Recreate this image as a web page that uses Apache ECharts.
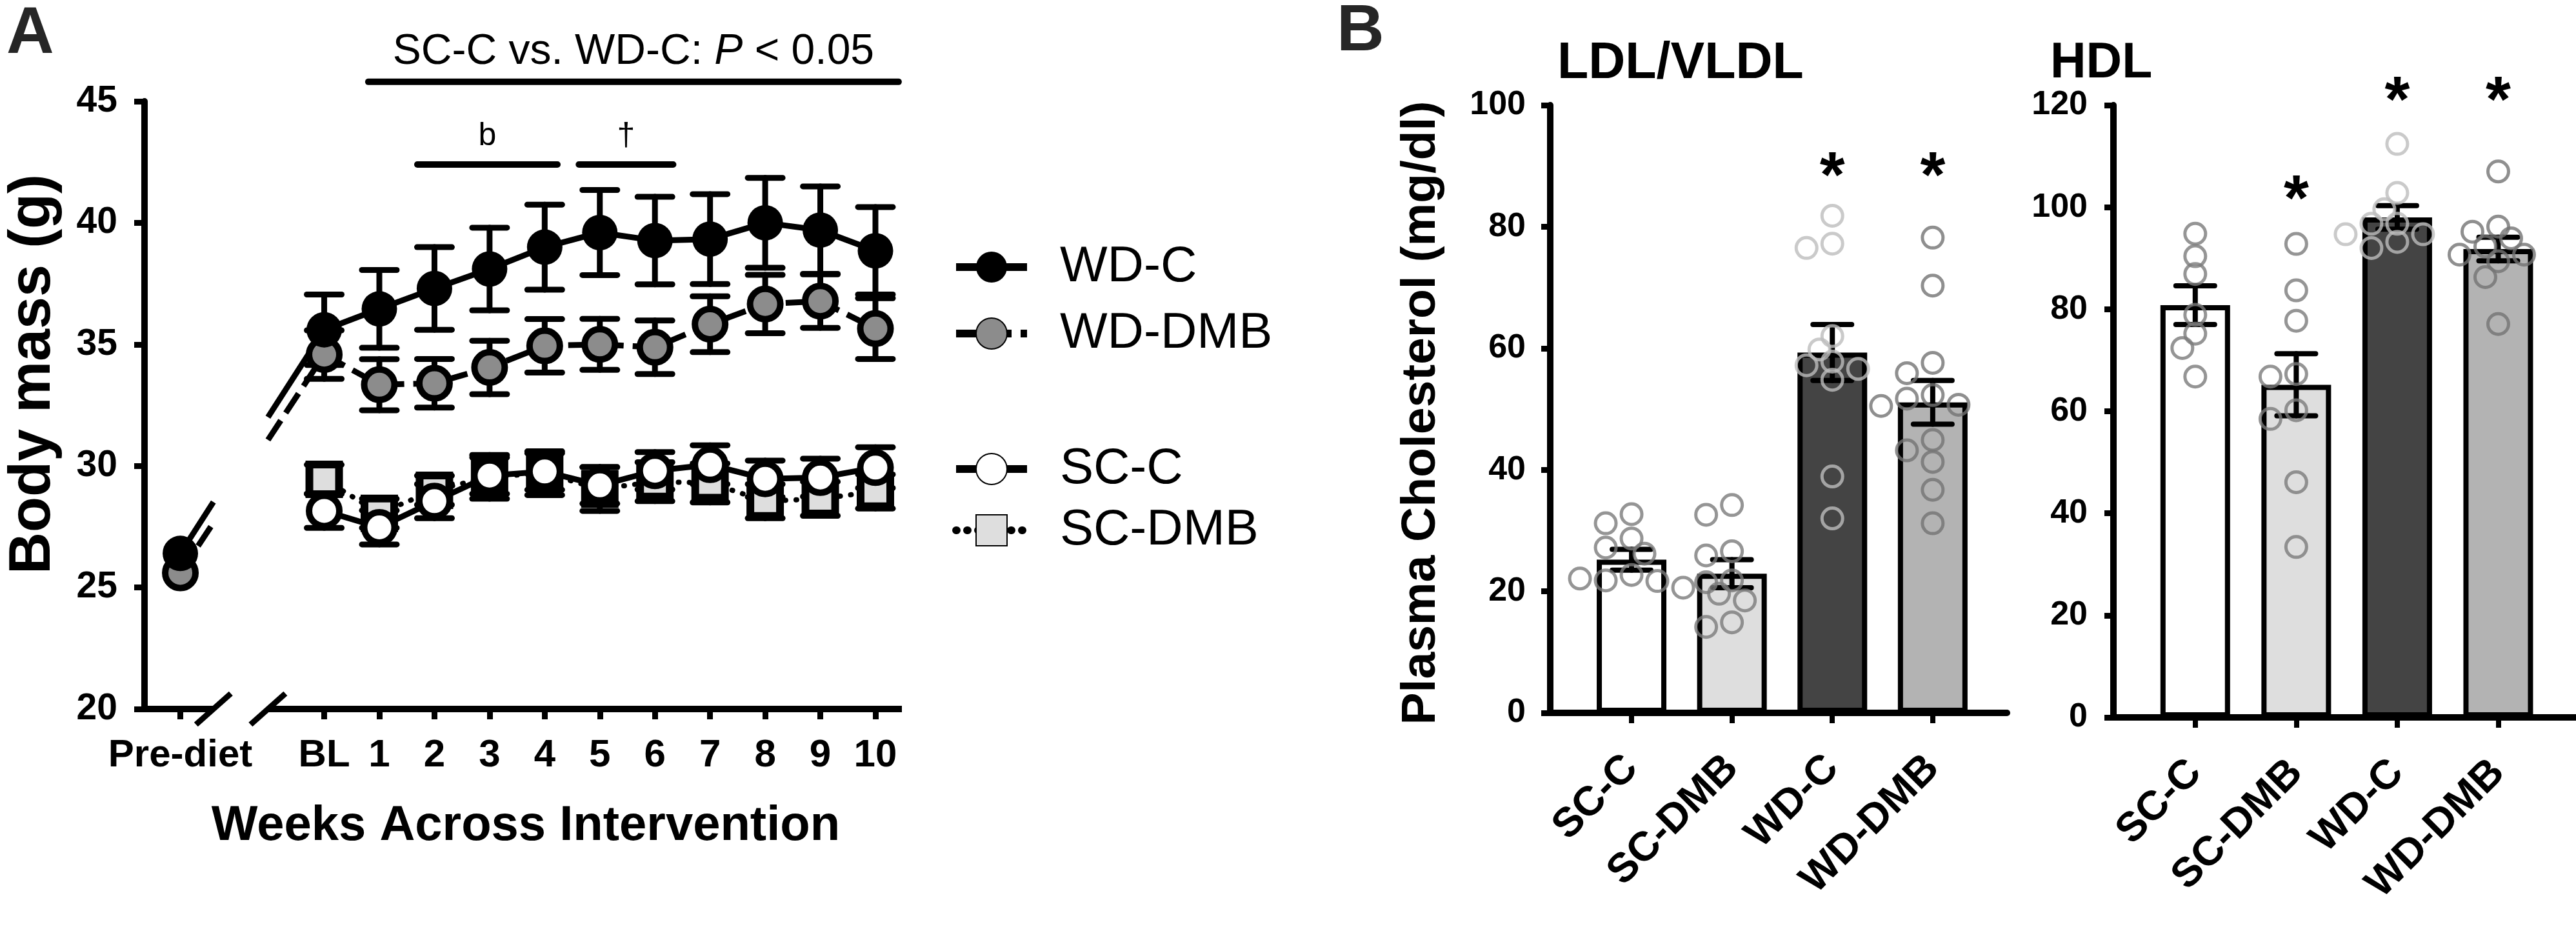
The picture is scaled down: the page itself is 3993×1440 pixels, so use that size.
<!DOCTYPE html>
<html><head><meta charset="utf-8">
<script src="https://cdn.jsdelivr.net/npm/echarts@6/dist/echarts.min.js"></script>
<style>html,body{margin:0;padding:0;background:#fff}#c{width:3993px;height:1440px}</style>
</head><body><div id="c"></div>
<script>
// ================= DATA =================
// Panel A: body mass (g), mean and SEM, BL..week 10
const weekLabels = ['Pre-diet','BL','1','2','3','4','5','6','7','8','9','10'];
const weeks = [0,1,2,3,4,5,6,7,8,9,10];
const wdC_pre = 26.4;
const wdDMB_pre = 25.6;
const wdC      = [35.6, 36.46, 37.3, 38.1, 39.0, 39.6, 39.27, 39.33, 40.0, 39.7, 38.85];
const wdC_sem  = [1.45, 1.6, 1.7, 1.7, 1.75, 1.75, 1.8, 1.85, 1.85, 1.8, 1.8];
const wdDMB    = [34.58, 33.34, 33.4, 34.05, 34.94, 35.0, 34.88, 35.83, 36.66, 36.78, 35.65];
const wdDMB_sem= [1.0, 1.05, 1.0, 1.1, 1.1, 1.05, 1.1, 1.15, 1.2, 1.1, 1.25];
const scC      = [28.15, 27.47, 28.55, 29.6, 29.77, 29.2, 29.8, 30.05, 29.47, 29.52, 29.93];
const scC_sem  = [0.7, 0.7, 0.7, 0.75, 0.75, 0.75, 0.77, 0.8, 0.75, 0.78, 0.84];
const scDMB    = [29.45, 28.05, 29.0, 29.55, 29.7, 29.05, 29.35, 29.3, 28.55, 28.65, 28.95];
const scDMB_sem= [0.6, 0.6, 0.6, 0.9, 0.9, 0.9, 0.8, 0.8, 0.7, 0.7, 0.7];
// significance annotations (week spans)
const sigSpans = [
  {text:'SC-C vs. WD-C: P < 0.05', from:0.8, to:10.42, tier:'main'},
  {text:'b', from:1.69, to:4.23, tier:'sub'},
  {text:'\u2020', from:4.62, to:6.33, tier:'sub'}
];

// Panel B: plasma cholesterol (mg/dl)
const groups = ['SC-C','SC-DMB','WD-C','WD-DMB'];
const ldlMean = [25.2, 22.9, 59.3, 51.1];
const ldlSem  = [1.7, 2.3, 4.6, 3.6];
const ldlPoints = [
  [32.7, 31.2, 28.7, 27.2, 26.2, 22.7, 21.8, 21.7, 22.1, 20.6],
  [34.2, 32.6, 26.6, 25.9, 21.8, 21.5, 19.6, 18.5, 14.9, 14.15],
  [81.8, 77.2, 76.5, 62.0, 59.8, 57.8, 57.2, 56.6, 54.8, 38.9, 32.0],
  [78.2, 70.3, 57.6, 55.9, 52.3, 51.7, 50.7, 50.5, 44.9, 43.2, 41.3, 36.7, 31.2]
];
const hdlMean = [80.8, 65.2, 98.0, 91.8];
const hdlSem  = [3.8, 6.1, 2.3, 2.3];
const hdlPoints = [
  [94.8, 90.4, 86.9, 78.9, 75.2, 72.4, 66.8],
  [92.8, 83.7, 77.75, 67.3, 66.8, 60.2, 58.5, 46.1, 33.4],
  [112.4, 102.8, 99.6, 96.75, 96.75, 94.7, 94.7, 93.2, 92.0],
  [107.0, 96.2, 95.2, 93.9, 92.3, 90.7, 90.7, 89.4, 86.3, 77.1]
];
// significance stars: [group index, level]
const ldlStars = [[2, 89.6], [3, 89.6]];
const hdlStars = [[1, 103.0], [2, 122.4], [3, 122.4]];

// ================= LAYOUT / STYLE =================
const FONT = '"Liberation Sans", Arial, Helvetica, sans-serif';
const PRE_X = -2.61;          // x position of the pre-diet category on the week axis
const BREAK_START = -2.01, BREAK_END = -1.02;
const XA_MIN = -3.26, XA_MAX = 10.48, YA_MIN = 20, YA_MAX = 45;
const GRID_A = {left:224, top:157, width:1174, height:942};
const GRID_L = {left:2403, top:163, width:708, height:942};
const GRID_H = {left:3276, top:163, width:717, height:949};
const XB_MIN = -0.81, XL_MAX = 3.74, XH_MAX = 3.77;
const barColors = ['#ffffff', '#dedede', '#444444', '#b3b3b3'];
const pointColors = ['#7a7a7a', '#7a7a7a', '#bdbdbd', '#737373'];
const tickPosA = [PRE_X].concat(weeks);

const chart = echarts.init(document.getElementById('c'), null, {renderer:'canvas', width:3993, height:1440});

function errRender(capHalf, lw) {
  return function (params, api) {
    const x = api.value(0), y = api.value(1), e = api.value(2);
    const t = api.coord([x, y + e]), b = api.coord([x, y - e]);
    const st = {stroke:'#000', lineWidth:lw, lineCap:'round'};
    return {type:'group', children:[
      {type:'line', shape:{x1:t[0], y1:t[1], x2:b[0], y2:b[1]}, style:st},
      {type:'line', shape:{x1:t[0]-capHalf, y1:t[1], x2:t[0]+capHalf, y2:t[1]}, style:st},
      {type:'line', shape:{x1:b[0]-capHalf, y1:b[1], x2:b[0]+capHalf, y2:b[1]}, style:st}
    ]};
  };
}
function connectorRender(dash) {
  return function (params, api) {
    const p0 = api.coord([api.value(0), api.value(1)]);
    const p1 = api.coord([api.value(2), api.value(3)]);
    const bs = api.coord([BREAK_START, YA_MIN])[0];
    const be = api.coord([BREAK_END, YA_MIN])[0];
    const lerp = (x) => { const t = (x - p0[0]) / (p1[0] - p0[0]); return [x, p0[1] + t * (p1[1] - p0[1])]; };
    const a = lerp(bs), b = lerp(be);
    const st = {stroke:'#000', lineWidth:9, lineDash: dash, lineCap:'butt'};
    return {type:'group', children:[
      {type:'line', shape:{x1:p0[0], y1:p0[1], x2:a[0], y2:a[1]}, style:st},
      {type:'line', shape:{x1:b[0], y1:b[1], x2:p1[0], y2:p1[1]}, style:st}
    ]};
  };
}
function beeswarm(values, pxY, pxX, diam, step) {
  const placed = [], offs = [];
  values.forEach(v => {
    const y = v * pxY;
    let chosen = 0;
    outer: for (let k = 0; k < 30; k++) {
      const cands = k === 0 ? [0] : [-k * step, k * step];
      for (const c of cands) {
        if (placed.every(p => Math.hypot(p.x - c, p.y - y) >= diam)) { chosen = c; break outer; }
      }
    }
    placed.push({x:chosen, y:y});
    offs.push(chosen / pxX);
  });
  return offs;
}
function pointsSeries(pts, axisIdx, grid, xmin, xmax, ymax) {
  const pxY = grid.height / ymax, pxX = grid.width / (xmax - xmin);
  return pts.map((vals, gi) => {
    const offs = beeswarm(vals, pxY, pxX, 26, 20);
    return {
      type:'scatter', xAxisIndex:axisIdx, yAxisIndex:axisIdx, z:5, silent:true,
      symbol:'circle', symbolSize:32,
      itemStyle:{color:'rgba(0,0,0,0)', borderColor:pointColors[gi], borderWidth:5},
      data: vals.map((v, i) => [gi + offs[i], v])
    };
  });
}
function starSeries(stars, axisIdx) {
  return {
    type:'custom', xAxisIndex:axisIdx, yAxisIndex:axisIdx, z:6, silent:true, clip:false,
    data: stars,
    renderItem: function (params, api) {
      const p = api.coord([api.value(0), api.value(1)]);
      return {type:'text', style:{text:'*', x:p[0], y:p[1] + 16, font:'bold 100px ' + FONT, fill:'#000',
        align:'center', verticalAlign:'middle', textAlign:'center', textVerticalAlign:'middle'}};
    }
  };
}
const sigLevels = {main:{line:45.8, text:47.02}, sub:{line:42.4, text:43.57}};
const lineA = (name, values, extra) => Object.assign({
  name:name, type:'line', xAxisIndex:0, yAxisIndex:0, z:3, silent:true, showAllSymbol:true,
  data: values
}, extra);

const axisLabelBase = {color:'#000', fontWeight:'bold', fontFamily:FONT};
const legendText = {fontSize:78, lineHeight:58, color:'#000', fontFamily:FONT, padding:[0,0,0,46]};

const option = {
  animation:false,
  backgroundColor:'#ffffff',
  textStyle:{fontFamily:FONT, color:'#000'},
  grid:[
    Object.assign({containLabel:false}, GRID_A),
    Object.assign({containLabel:false}, GRID_L),
    Object.assign({containLabel:false}, GRID_H)
  ],
  legend:[
    {data:['WD-C','WD-DMB'], orient:'vertical', left:1471, top:370, itemWidth:110, itemHeight:60, itemGap:25,
     selectedMode:false, lineStyle:{width:12}, textStyle:legendText},
    {data:['SC-C','SC-DMB'], orient:'vertical', left:1471, top:683, itemWidth:110, itemHeight:60, itemGap:17,
     selectedMode:false, lineStyle:{width:12}, textStyle:legendText}
  ],
  xAxis:[
    {gridIndex:0, type:'value', min:XA_MIN, max:XA_MAX, splitLine:{show:false}, axisLine:{show:false, onZero:false},
     axisTick:{show:true, customValues:tickPosA, length:16, lineStyle:{width:9, color:'#000'}},
     axisLabel:Object.assign({customValues:tickPosA, fontSize:60, margin:42,
       formatter:(v) => weekLabels[tickPosA.findIndex(p => Math.abs(p - v) < 1e-6)]}, axisLabelBase)},
    {gridIndex:1, type:'value', min:XB_MIN, max:XL_MAX, splitLine:{show:false},
     axisLine:{show:true, onZero:false, lineStyle:{width:10, color:'#000'}},
     axisTick:{show:true, customValues:[0,1,2,3], length:16, lineStyle:{width:8, color:'#000'}},
     axisLabel:Object.assign({customValues:[0,1,2,3], rotate:45, fontSize:64, margin:76,
       formatter:(v) => groups[Math.round(v)]}, axisLabelBase)},
    {gridIndex:2, type:'value', min:XB_MIN, max:XH_MAX, splitLine:{show:false},
     axisLine:{show:true, onZero:false, lineStyle:{width:10, color:'#000'}},
     axisTick:{show:true, customValues:[0,1,2,3], length:16, lineStyle:{width:8, color:'#000'}},
     axisLabel:Object.assign({customValues:[0,1,2,3], rotate:45, fontSize:64, margin:76,
       formatter:(v) => groups[Math.round(v)]}, axisLabelBase)}
  ],
  yAxis:[
    {gridIndex:0, type:'value', min:YA_MIN, max:YA_MAX, interval:5, splitLine:{show:false},
     axisLine:{show:true, onZero:false, lineStyle:{width:10, color:'#000'}},
     axisTick:{show:true, length:16, lineStyle:{width:9, color:'#000'}},
     axisLabel:Object.assign({fontSize:57, margin:42}, axisLabelBase)},
    {gridIndex:1, type:'value', min:0, max:100, interval:20, splitLine:{show:false},
     axisLine:{show:true, onZero:false, lineStyle:{width:10, color:'#000'}},
     axisTick:{show:true, length:14, lineStyle:{width:9, color:'#000'}},
     axisLabel:Object.assign({fontSize:52, margin:38}, axisLabelBase)},
    {gridIndex:2, type:'value', min:0, max:120, interval:20, splitLine:{show:false},
     axisLine:{show:true, onZero:false, lineStyle:{width:10, color:'#000'}},
     axisTick:{show:true, length:14, lineStyle:{width:9, color:'#000'}},
     axisLabel:Object.assign({fontSize:52, margin:40}, axisLabelBase)}
  ],
  graphic:[
    {type:'text', x:10, y:54, style:{text:'A', font:'bold 102px ' + FONT, fill:'#262626', align:'left', verticalAlign:'middle', textAlign:'left', textVerticalAlign:'middle'}},
    {type:'text', x:2072, y:50, style:{text:'B', font:'bold 102px ' + FONT, fill:'#262626', align:'left', verticalAlign:'middle', textAlign:'left', textVerticalAlign:'middle'}},
    {type:'text', x:52, y:580, rotation:Math.PI/2, style:{text:'Body mass (g)', font:'bold 90px ' + FONT, fill:'#000', align:'center', verticalAlign:'middle', textAlign:'center', textVerticalAlign:'middle'}},
    {type:'text', x:815, y:1281, style:{text:'Weeks Across Intervention', font:'bold 76px ' + FONT, fill:'#000', align:'center', verticalAlign:'middle', textAlign:'center', textVerticalAlign:'middle'}},
    {type:'text', x:2203, y:640, rotation:Math.PI/2, style:{text:'Plasma Cholesterol (mg/dl)', font:'bold 75px ' + FONT, fill:'#000', align:'center', verticalAlign:'middle', textAlign:'center', textVerticalAlign:'middle'}},
    {type:'text', x:2414, y:99, style:{text:'LDL/VLDL', font:'bold 79px ' + FONT, fill:'#000', align:'left', verticalAlign:'middle', textAlign:'left', textVerticalAlign:'middle'}},
    {type:'text', x:3178, y:99, style:{text:'HDL', font:'bold 77px ' + FONT, fill:'#000', align:'left', verticalAlign:'middle', textAlign:'left', textVerticalAlign:'middle'}}
  ],
  series:[]
};

const S = option.series;
// ---- Panel A ----
S.push({name:'SC-DMB err', type:'custom', xAxisIndex:0, yAxisIndex:0, z:3, silent:true,
  renderItem:errRender(27, 9), data:weeks.map((w, i) => [w, scDMB[i], scDMB_sem[i]])});
S.push(lineA('SC-DMB', weeks.map((w, i) => [w, scDMB[i]]), {
  symbol:'rect', symbolSize:46,
  itemStyle:{color:'#dedede', borderColor:'#000', borderWidth:12},
  lineStyle:{color:'#000', width:8, type:[1, 16], cap:'round'}}));
S.push({name:'SC-C err', type:'custom', xAxisIndex:0, yAxisIndex:0, z:3, silent:true,
  renderItem:errRender(27, 9), data:weeks.map((w, i) => [w, scC[i], scC_sem[i]])});
S.push(lineA('SC-C', weeks.map((w, i) => [w, scC[i]]), {
  symbol:'circle', symbolSize:47,
  itemStyle:{color:'#ffffff', borderColor:'#000', borderWidth:10},
  lineStyle:{color:'#000', width:9}}));
S.push({name:'WD-DMB conn', type:'custom', xAxisIndex:0, yAxisIndex:0, z:3, silent:true, clip:false,
  renderItem:connectorRender([36, 14]), data:[[PRE_X, wdDMB_pre, weeks[0], wdDMB[0]]]});
S.push({name:'WD-DMB err', type:'custom', xAxisIndex:0, yAxisIndex:0, z:3, silent:true,
  renderItem:errRender(27, 9), data:weeks.map((w, i) => [w, wdDMB[i], wdDMB_sem[i]])});
S.push(lineA('WD-DMB', [[PRE_X, wdDMB_pre], '-'].concat(weeks.map((w, i) => [w, wdDMB[i]])), {
  symbol:'circle', symbolSize:47, connectNulls:false,
  itemStyle:{color:'#8c8c8c', borderColor:'#000', borderWidth:10},
  lineStyle:{color:'#000', width:9, type:[36, 14]}}));
S.push({name:'WD-C conn', type:'custom', xAxisIndex:0, yAxisIndex:0, z:3, silent:true, clip:false,
  renderItem:connectorRender(null), data:[[PRE_X, wdC_pre, weeks[0], wdC[0]]]});
S.push({name:'WD-C err', type:'custom', xAxisIndex:0, yAxisIndex:0, z:3, silent:true,
  renderItem:errRender(27, 9), data:weeks.map((w, i) => [w, wdC[i], wdC_sem[i]])});
S.push(lineA('WD-C', [[PRE_X, wdC_pre], '-'].concat(weeks.map((w, i) => [w, wdC[i]])), {
  symbol:'circle', symbolSize:55, connectNulls:false,
  itemStyle:{color:'#000000', borderColor:'#000', borderWidth:0},
  lineStyle:{color:'#000', width:9}}));
// broken x axis line with slashes
S.push({name:'axis break', type:'custom', xAxisIndex:0, yAxisIndex:0, z:4, silent:true, clip:false,
  data:[[XA_MIN, YA_MIN]],
  renderItem:function (params, api) {
    const L = api.coord([XA_MIN, YA_MIN]), s = api.coord([BREAK_START, YA_MIN]),
          e = api.coord([BREAK_END, YA_MIN]), R = api.coord([XA_MAX, YA_MIN]);
    const ax = {stroke:'#000', lineWidth:10, lineCap:'butt'};
    const sl = {stroke:'#000', lineWidth:9, lineCap:'butt'};
    return {type:'group', children:[
      {type:'line', shape:{x1:L[0]-5, y1:L[1], x2:s[0], y2:s[1]}, style:ax},
      {type:'line', shape:{x1:e[0], y1:e[1], x2:R[0], y2:R[1]}, style:ax},
      {type:'line', shape:{x1:s[0]-27, y1:s[1]+24, x2:s[0]+27, y2:s[1]-24}, style:sl},
      {type:'line', shape:{x1:e[0]-27, y1:e[1]+24, x2:e[0]+27, y2:e[1]-24}, style:sl}
    ]};
  }});
// significance annotations
S.push({name:'sig', type:'custom', xAxisIndex:0, yAxisIndex:0, z:6, silent:true, clip:false,
  data:sigSpans.map((s, i) => [s.from, s.to, i]),
  renderItem:function (params, api) {
    const sp = sigSpans[api.value(2)], lv = sigLevels[sp.tier];
    const a = api.coord([api.value(0), lv.line]), b = api.coord([api.value(1), lv.line]);
    const tc = api.coord([(api.value(0) + api.value(1)) / 2, lv.text]);
    let txt;
    if (sp.tier === 'main') {
      const parts = sp.text.split('P');
      txt = {type:'text', style:{text:'{n|' + parts[0] + '}{i|P}{n|' + parts[1] + '}', x:tc[0], y:tc[1],
        align:'center', verticalAlign:'middle', textAlign:'center', textVerticalAlign:'middle',
        rich:{n:{fontSize:66, fontFamily:FONT, fill:'#000', color:'#000'},
              i:{fontSize:66, fontFamily:FONT, fontStyle:'italic', fill:'#000', color:'#000'}}}};
    } else {
      txt = {type:'text', style:{text:sp.text, x:tc[0], y:tc[1], font:'50px ' + FONT, fill:'#000',
        align:'center', verticalAlign:'middle', textAlign:'center', textVerticalAlign:'middle'}};
    }
    return {type:'group', children:[
      {type:'line', shape:{x1:a[0], y1:a[1], x2:b[0], y2:b[1]}, style:{stroke:'#000', lineWidth:10, lineCap:'round'}},
      txt
    ]};
  }});

// ---- Panel B ----
[[1, ldlMean, ldlSem, ldlPoints, GRID_L, XL_MAX, 100, ldlStars],
 [2, hdlMean, hdlSem, hdlPoints, GRID_H, XH_MAX, 120, hdlStars]].forEach(cfg => {
  const [ai, mean, sem, pts, grid, xmax, ymax, stars] = cfg;
  S.push({type:'bar', xAxisIndex:ai, yAxisIndex:ai, z:2, silent:true, barWidth:108,
    itemStyle:{borderColor:'#000', borderWidth:8},
    data:mean.map((v, i) => ({value:[i, v], itemStyle:{color:barColors[i]}}))});
  S.push({type:'custom', xAxisIndex:ai, yAxisIndex:ai, z:3, silent:true,
    renderItem:errRender(30, 8), data:mean.map((v, i) => [i, v, sem[i]])});
  pointsSeries(pts, ai, grid, XB_MIN, xmax, ymax).forEach(s => S.push(s));
  S.push(starSeries(stars, ai));
});

chart.setOption(option);
</script>
</body></html>
